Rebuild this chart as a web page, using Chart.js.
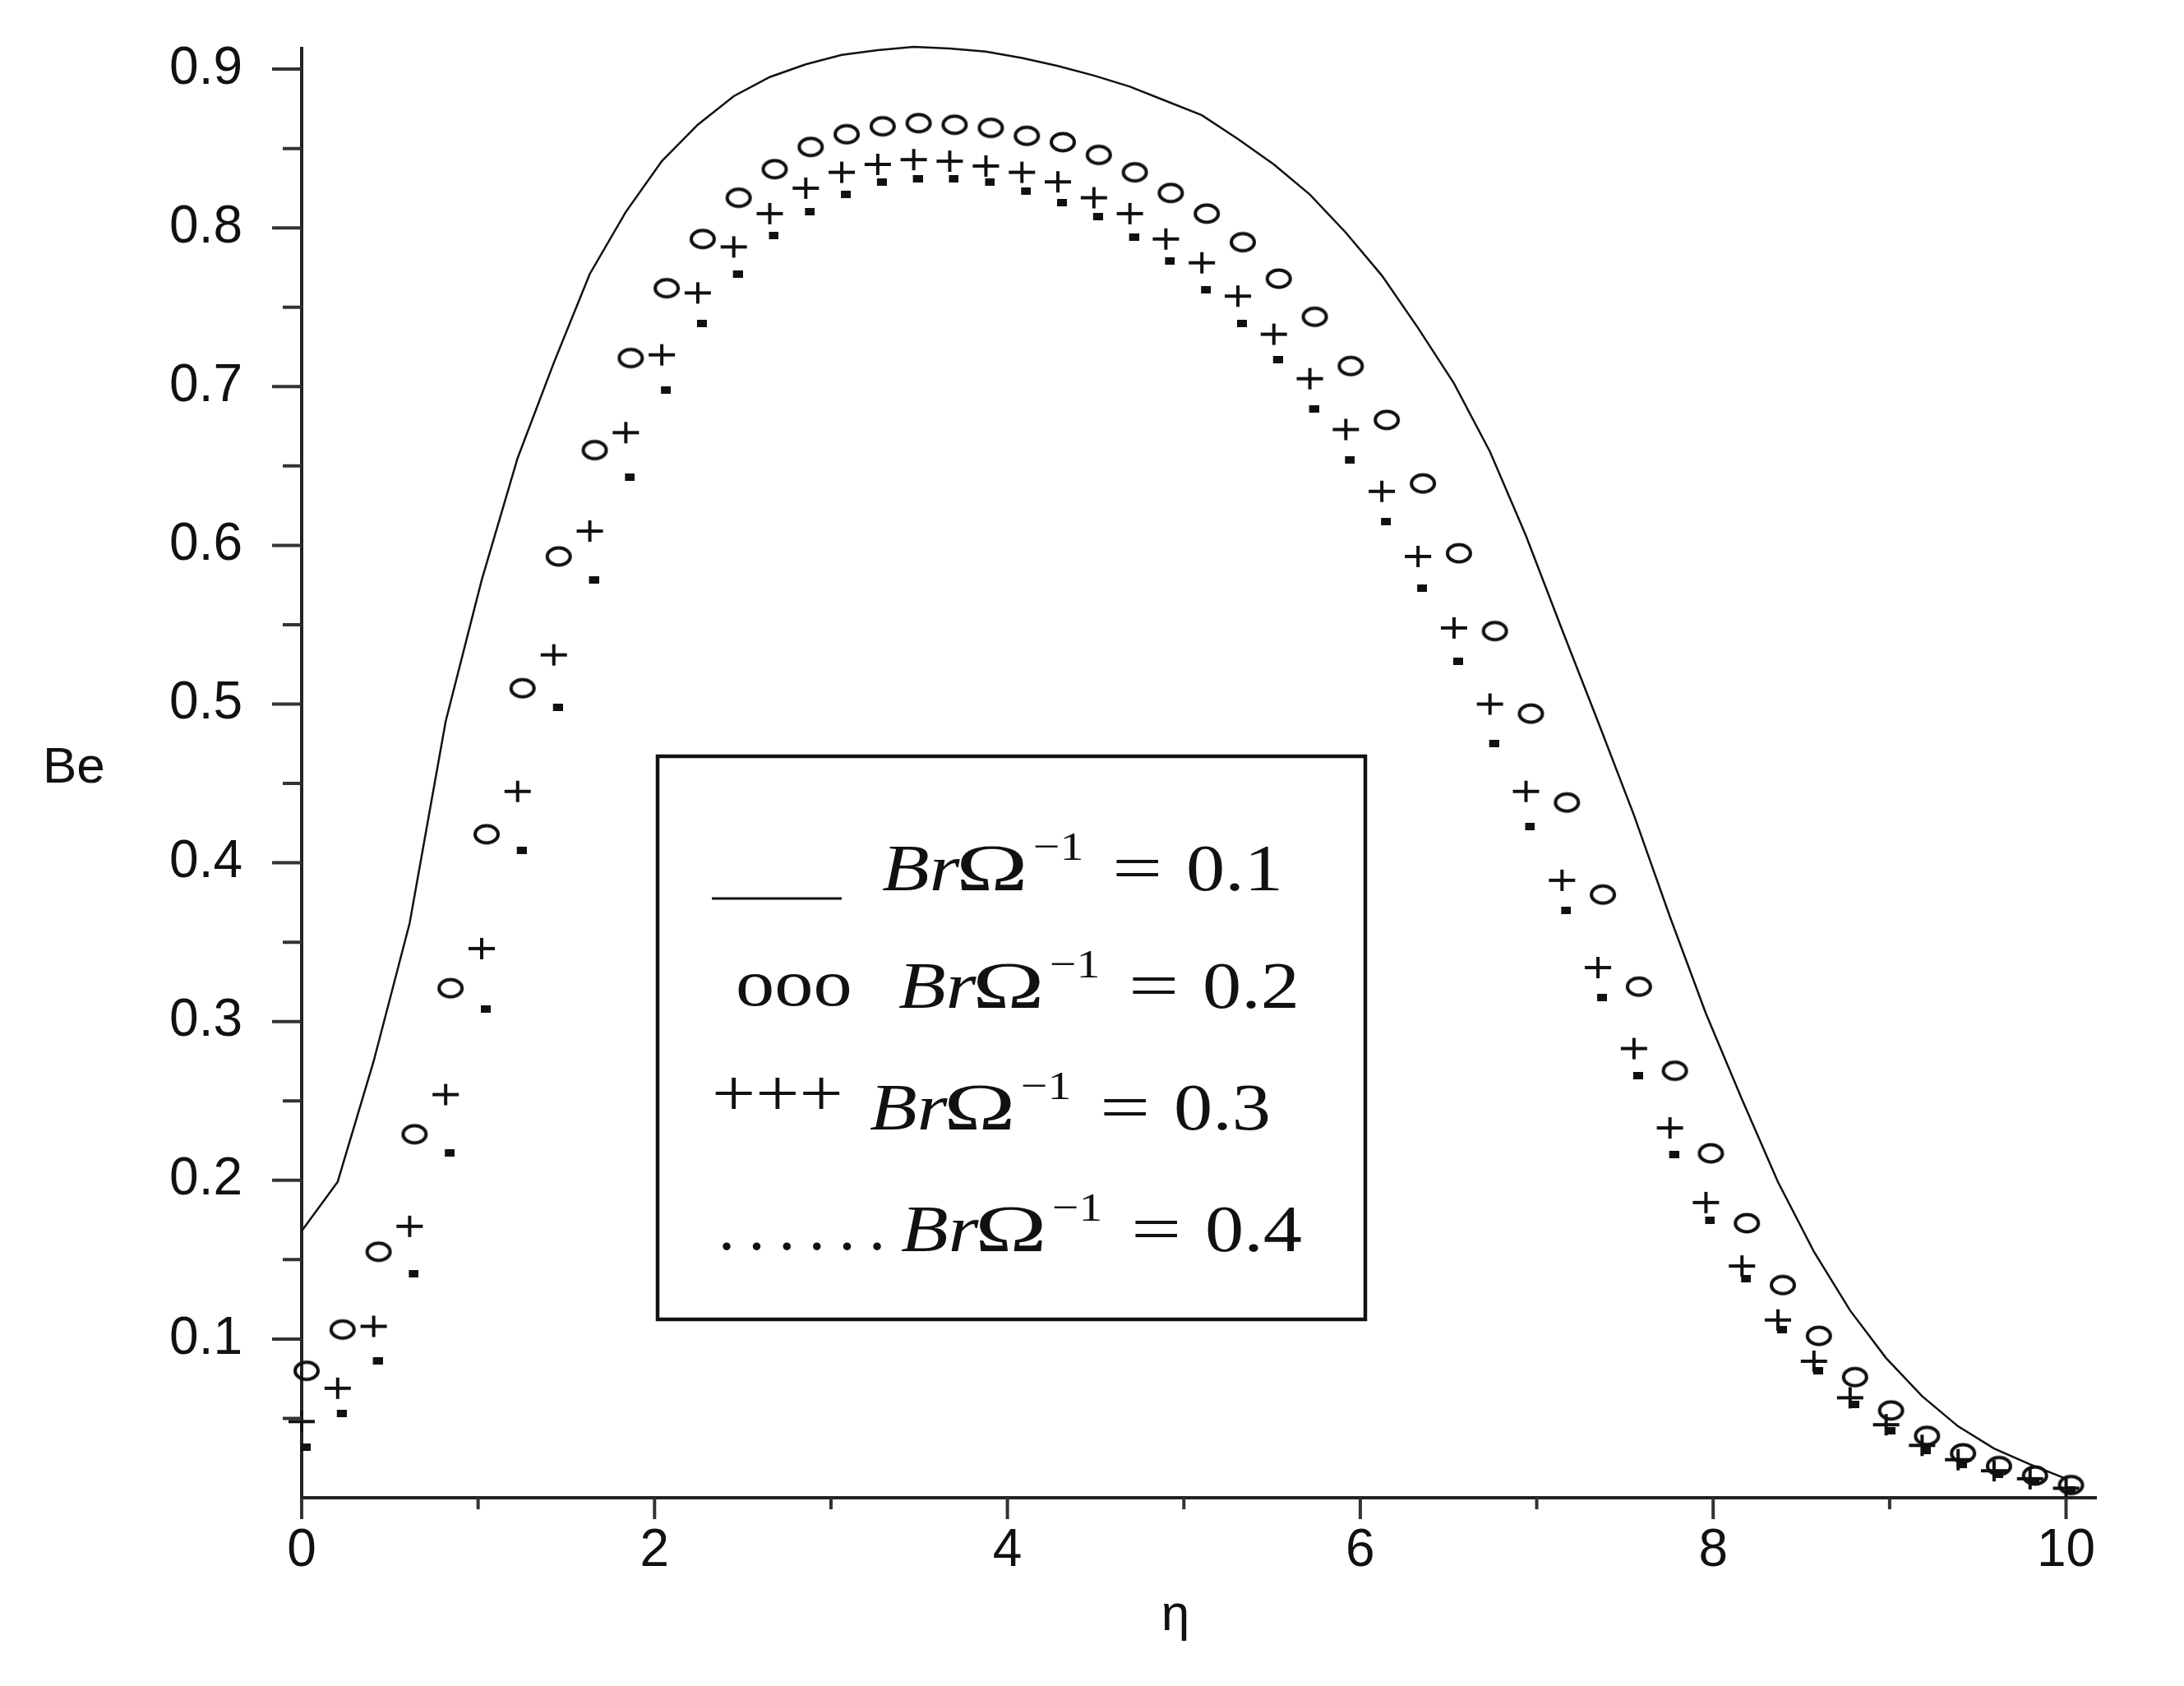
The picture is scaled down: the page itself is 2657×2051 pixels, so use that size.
<!DOCTYPE html>
<html>
<head>
<meta charset="utf-8">
<title>Be vs eta</title>
<script src="https://cdn.jsdelivr.net/npm/chart.js@4.4.0/dist/chart.umd.min.js"></script>
<style>
  html, body { margin: 0; padding: 0; background: #fff; }
  #wrap { width: 2657px; height: 2051px; }
</style>
</head>
<body>
<div id="wrap"><canvas id="beChart" width="2657" height="2051"></canvas></div>
<script>
// eta grid (50 points from 0 to 10)
const etaValues = [0, 0.204, 0.408, 0.612, 0.816, 1.020, 1.224, 1.429, 1.633, 1.837,
  2.041, 2.245, 2.449, 2.653, 2.857, 3.061, 3.265, 3.469, 3.673, 3.878,
  4.082, 4.286, 4.490, 4.694, 4.898, 5.102, 5.306, 5.510, 5.714, 5.918,
  6.122, 6.327, 6.531, 6.735, 6.939, 7.143, 7.347, 7.551, 7.755, 7.959,
  8.163, 8.367, 8.571, 8.776, 8.980, 9.184, 9.388, 9.592, 9.796, 10.000];

// Br*Omega^-1 = 0.1 (solid line)
const beBr01 = [0.168, 0.199, 0.275, 0.362, 0.489, 0.578, 0.655, 0.715, 0.771, 0.810,
  0.842, 0.865, 0.883, 0.895, 0.903, 0.909, 0.912, 0.914, 0.913, 0.911,
  0.907, 0.902, 0.896, 0.889, 0.880, 0.871, 0.856, 0.840, 0.821, 0.797,
  0.770, 0.737, 0.702, 0.659, 0.606, 0.547, 0.489, 0.430, 0.366, 0.305,
  0.251, 0.199, 0.155, 0.118, 0.088, 0.064, 0.045, 0.031, 0.021, 0.012];

// = 0.2 (circles)
const beBr02 = [0.080, 0.106, 0.155, 0.229, 0.321, 0.418, 0.510, 0.593, 0.660, 0.718,
  0.762, 0.793, 0.819, 0.837, 0.851, 0.859, 0.864, 0.866, 0.865, 0.863,
  0.858, 0.854, 0.846, 0.835, 0.822, 0.809, 0.791, 0.768, 0.744, 0.713,
  0.679, 0.639, 0.595, 0.546, 0.494, 0.438, 0.380, 0.322, 0.269, 0.217,
  0.173, 0.134, 0.102, 0.076, 0.055, 0.039, 0.028, 0.020, 0.014, 0.008];

// = 0.3 (crosses)
const beBr03 = [0.048, 0.069, 0.108, 0.171, 0.254, 0.346, 0.445, 0.531, 0.609, 0.671,
  0.720, 0.759, 0.788, 0.809, 0.825, 0.835, 0.840, 0.843, 0.842, 0.839,
  0.835, 0.829, 0.819, 0.809, 0.793, 0.778, 0.757, 0.733, 0.705, 0.673,
  0.634, 0.593, 0.548, 0.500, 0.445, 0.389, 0.334, 0.283, 0.233, 0.186,
  0.146, 0.112, 0.086, 0.063, 0.046, 0.033, 0.024, 0.017, 0.012, 0.006];

// = 0.4 (dots)
const beBr04 = [0.032, 0.053, 0.086, 0.141, 0.217, 0.308, 0.408, 0.498, 0.578, 0.643,
  0.698, 0.740, 0.771, 0.795, 0.810, 0.821, 0.829, 0.831, 0.831, 0.829,
  0.823, 0.816, 0.807, 0.794, 0.779, 0.761, 0.740, 0.717, 0.686, 0.654,
  0.615, 0.573, 0.527, 0.475, 0.423, 0.370, 0.315, 0.266, 0.216, 0.175,
  0.138, 0.106, 0.080, 0.059, 0.042, 0.030, 0.021, 0.015, 0.010, 0.005];

const xTickValues = [0, 2, 4, 6, 8, 10];
const xMinorTicks = [1, 3, 5, 7, 9];
const yTickValues = [0.1, 0.2, 0.3, 0.4, 0.5, 0.6, 0.7, 0.8, 0.9];
const yMinorTicks = [0.05, 0.15, 0.25, 0.35, 0.45, 0.55, 0.65, 0.75, 0.85];
const legendValues = ["0.1", "0.2", "0.3", "0.4"];

const ink = "#111";

function toPoints(ys) {
  return etaValues.map((x, i) => ({ x: x, y: ys[i] }));
}

// small canvases used as point styles; the glyphs sit a few px right of the point
function markerCanvas(w, h, draw) {
  const c = document.createElement("canvas");
  c.width = w;
  c.height = h;
  const g = c.getContext("2d");
  g.strokeStyle = ink;
  g.fillStyle = ink;
  draw(g);
  return c;
}
const circleMark = markerCanvas(46, 28, (g) => {
  g.lineWidth = 4;
  g.beginPath();
  g.ellipse(29, 14, 14, 10.5, 0, 0, 2 * Math.PI);
  g.stroke();
});
const crossMark = markerCanvas(44, 28, (g) => {
  g.fillRect(6, 12, 32, 4);
  g.fillRect(20, 1, 4, 26);
});
const dotMark = markerCanvas(22, 9, (g) => {
  g.fillRect(10, 0, 12, 9);
});

// ticks, axis titles and the boxed legend
const extras = {
  id: "extras",
  afterDraw(chart) {
    const { ctx, chartArea, scales } = chart;
    const x = scales.x;
    const y = scales.y;
    ctx.save();

    // tick marks
    ctx.strokeStyle = "#333";
    ctx.lineWidth = 4;
    ctx.beginPath();
    yTickValues.forEach((v) => {
      const py = y.getPixelForValue(v);
      ctx.moveTo(chartArea.left - 36, py);
      ctx.lineTo(chartArea.left, py);
    });
    yMinorTicks.forEach((v) => {
      const py = y.getPixelForValue(v);
      ctx.moveTo(chartArea.left - 23, py);
      ctx.lineTo(chartArea.left, py);
    });
    xTickValues.forEach((v) => {
      const px = x.getPixelForValue(v);
      ctx.moveTo(px, chartArea.bottom);
      ctx.lineTo(px, chartArea.bottom + 26);
    });
    xMinorTicks.forEach((v) => {
      const px = x.getPixelForValue(v);
      ctx.moveTo(px, chartArea.bottom);
      ctx.lineTo(px, chartArea.bottom + 14);
    });
    ctx.stroke();

    // axis titles
    ctx.fillStyle = ink;
    ctx.font = '62px "Liberation Sans"';
    ctx.textBaseline = "alphabetic";
    ctx.textAlign = "left";
    ctx.fillText("Be", 52, 952);
    ctx.textAlign = "center";
    ctx.textBaseline = "middle";
    ctx.fillText("η", 1430, 1966);

    // legend box
    ctx.lineWidth = 4.5;
    ctx.strokeStyle = ink;
    ctx.strokeRect(800, 920, 861, 685);

    const sx = 1.18; // text in the legend is stretched horizontally
    const rows = [
      { textX: 1073, base: 1083 },
      { textX: 1093, base: 1226 },
      { textX: 1058, base: 1374 },
      { textX: 1096, base: 1522 }
    ];
    ctx.textAlign = "left";
    ctx.textBaseline = "alphabetic";

    // samples
    ctx.beginPath();
    ctx.lineWidth = 3;
    ctx.moveTo(866, 1093);
    ctx.lineTo(1024, 1093);
    ctx.stroke();

    ctx.font = '80px "Liberation Serif"';
    ctx.save();
    ctx.translate(895, 1223);
    ctx.scale(sx, 1);
    ctx.fillText("ooo", 0, 0);
    ctx.restore();

    ctx.save();
    ctx.translate(866, 1357);
    ctx.scale(sx, 1);
    ctx.fillText("+++", 0, 0);
    ctx.restore();

    for (let k = 0; k < 6; k++) {
      ctx.fillText(".", 874 + k * 36.6, 1520);
    }

    rows.forEach((r, i) => {
      ctx.save();
      ctx.translate(r.textX, r.base);
      ctx.scale(sx, 1);
      ctx.font = 'italic 80px "Liberation Serif"';
      ctx.fillText("Br", 0, 0);
      ctx.font = '80px "Liberation Serif"';
      ctx.save();
      ctx.translate(90 / sx, 0);
      ctx.scale(1.25, 1);
      ctx.fillText("Ω", 0, 0);
      ctx.restore();
      ctx.font = '49px "Liberation Serif"';
      ctx.fillText("−1", 184 / sx, -37);
      ctx.font = '80px "Liberation Serif"';
      ctx.save();
      ctx.translate(280 / sx, 0);
      ctx.scale(1.15, 1);
      ctx.fillText("=", 0, 0);
      ctx.restore();
      ctx.fillText(legendValues[i], 370 / sx, 0);
      ctx.restore();
    });

    ctx.restore();
  }
};

const ctx = document.getElementById("beChart").getContext("2d");
const beChart = new Chart(ctx, {
  type: "scatter",
  data: {
    datasets: [
      {
        label: "BrΩ^-1 = 0.1",
        data: toPoints(beBr01),
        showLine: true,
        borderColor: ink,
        borderWidth: 2.5,
        pointRadius: 0,
        tension: 0,
        clip: false
      },
      {
        label: "BrΩ^-1 = 0.2",
        data: toPoints(beBr02),
        showLine: false,
        pointStyle: circleMark,
        pointRadius: 14,
        clip: false
      },
      {
        label: "BrΩ^-1 = 0.3",
        data: toPoints(beBr03),
        showLine: false,
        pointStyle: crossMark,
        pointRadius: 14,
        clip: false
      },
      {
        label: "BrΩ^-1 = 0.4",
        data: toPoints(beBr04),
        showLine: false,
        pointStyle: dotMark,
        pointRadius: 6,
        clip: false
      }
    ]
  },
  options: {
    responsive: false,
    animation: false,
    devicePixelRatio: 1,
    layout: { padding: { top: 59, right: 107, left: 0, bottom: 0 } },
    plugins: {
      legend: { display: false },
      tooltip: { enabled: false }
    },
    scales: {
      x: {
        type: "linear",
        min: 0,
        max: 10.17,
        afterBuildTicks: (s) => { s.ticks = xTickValues.map((v) => ({ value: v })); },
        afterFit: (s) => {
          s.height = 229;
          s.paddingLeft = 0;
          s.paddingRight = 0;
        },
        ticks: {
          callback: (v) => String(v),
          color: ink,
          font: { family: "Liberation Sans", size: 64 },
          padding: 27,
          maxRotation: 0,
          autoSkip: false
        },
        grid: { drawOnChartArea: false, drawTicks: false },
        border: { display: true, color: "#222", width: 4 }
      },
      y: {
        type: "linear",
        min: 0,
        max: 0.913,
        afterBuildTicks: (s) => { s.ticks = yTickValues.map((v) => ({ value: v })); },
        afterFit: (s) => {
          s.width = 367;
          s.paddingTop = 0;
          s.paddingBottom = 0;
        },
        ticks: {
          callback: (v) => v.toFixed(1),
          color: ink,
          font: { family: "Liberation Sans", size: 64 },
          padding: 72,
          autoSkip: false
        },
        grid: { drawOnChartArea: false, drawTicks: false },
        border: { display: true, color: "#222", width: 4 }
      }
    }
  },
  plugins: [extras]
});
</script>
</body>
</html>
